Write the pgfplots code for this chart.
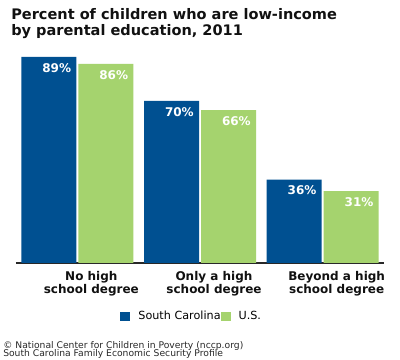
\documentclass[border=0pt]{standalone}
\usepackage{fontspec}
\setmainfont{DejaVu Sans}
\usepackage{pgfplots}
\pgfplotsset{compat=1.18}
\definecolor{scblue}{RGB}{0,80,145}
\definecolor{usgreen}{RGB}{165,211,110}
\definecolor{axisgray}{RGB}{40,40,40}
\definecolor{titleblack}{RGB}{17,17,17}
\begin{document}
\begin{tikzpicture}
\path[fill=white,use as bounding box] (0,0) rectangle (300pt,270pt);
\node[anchor=base west,inner sep=0,text=titleblack,font=\bfseries\fontsize{10.9}{12}\selectfont] at (8.25pt,255pt) {Percent of children who are low-income};
\node[anchor=base west,inner sep=0,text=titleblack,font=\bfseries\fontsize{10.9}{12}\selectfont] at (8.25pt,243pt) {by parental education, 2011};
\begin{axis}[
  at={(12pt,72.75pt)}, anchor=south west, scale only axis,
  width=276pt, height=173.6pt,
  xmin=-0.5, xmax=2.5, ymin=0, ymax=100,
  axis x line=bottom, axis y line=none,
  axis line style={axisgray,line width=1.5pt,-},
  xtick={0,1,2},
  xticklabels={{No high\\school degree},{Only a high\\school degree},{Beyond a high\\school degree}},
  xticklabel style={align=center,text=titleblack,font=\bfseries\fontsize{9}{8.4}\selectfont,xshift=10.5pt,yshift=-3pt},
  major tick length=0pt,
  ytick=\empty,
  ybar, bar width=41.25pt,
  /pgf/number format/assume math mode=true,
  nodes near coords={\pgfmathprintnumber{\pgfplotspointmeta}\%},
  every node near coord/.append style={anchor=north east,inner sep=0pt,xshift=16.9pt,yshift=-4.5pt,text=white,font=\bfseries\fontsize{9}{9}\selectfont},
  legend style={at={(0.283,-0.231)}, anchor=west, draw=none, fill=none, inner sep=0pt,
    font=\fontsize{8.4}{9.6}\selectfont, legend columns=2,
    /tikz/every odd column/.append style={column sep=4pt},
    /tikz/every even column/.append style={column sep=-2pt}},
  legend image code/.code={\fill[#1] (0pt,-3.4pt) rectangle (7.5pt,3.4pt);},
]
\addplot[fill=scblue,draw=none,bar shift=-21.375pt] coordinates {(0,89) (1,70) (2,36)};
\addplot[fill=usgreen,draw=none,bar shift=21.375pt] coordinates {(0,86) (1,66) (2,31)};
\legend{South Carolina,U.S.}
\end{axis}
\node[anchor=base west,inner sep=0,text=axisgray,font=\fontsize{6.9}{7}\selectfont] at (2.25pt,8.25pt) {© National Center for Children in Poverty (nccp.org)};
\node[anchor=base west,inner sep=0,text=axisgray,font=\fontsize{6.9}{7}\selectfont] at (2.25pt,2.25pt) {South Carolina Family Economic Security Profile};
\end{tikzpicture}
\end{document}
